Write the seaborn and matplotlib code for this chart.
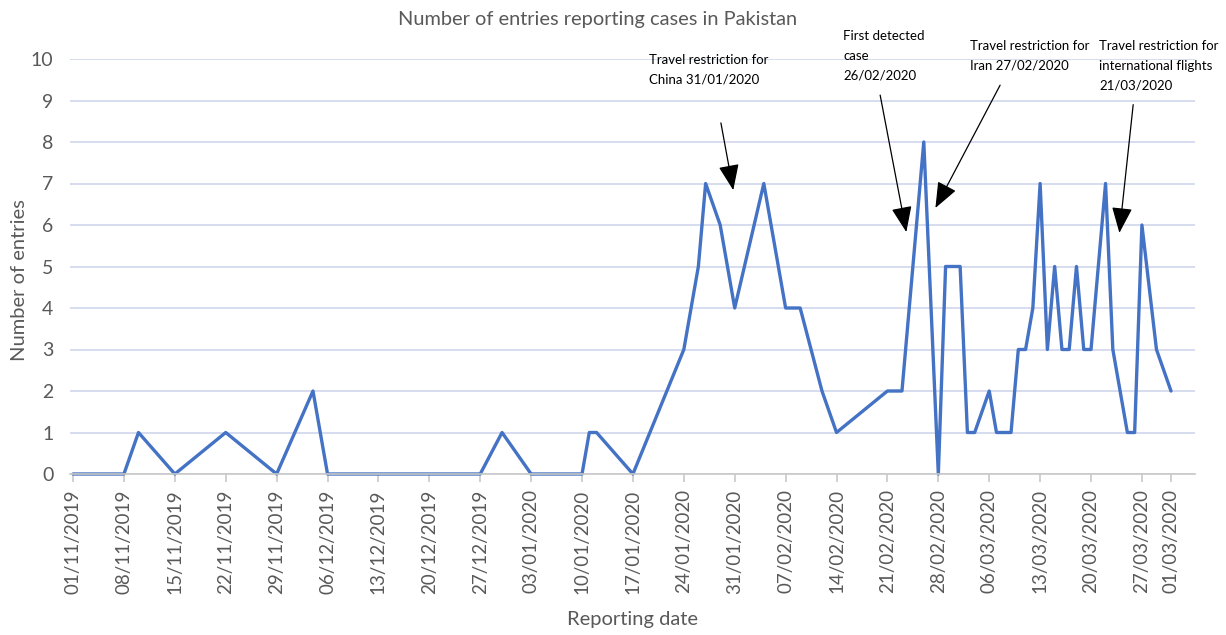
import matplotlib
matplotlib.use("Agg")
import matplotlib.pyplot as plt
import pandas as pd
import seaborn as sns

# data
dates = ["2019-11-01", "2019-11-08", "2019-11-10", "2019-11-15", "2019-11-22",
         "2019-11-29", "2019-12-04", "2019-12-06", "2019-12-27", "2019-12-30",
         "2020-01-03", "2020-01-10", "2020-01-11", "2020-01-12", "2020-01-17",
         "2020-01-24", "2020-01-26", "2020-01-27", "2020-01-29", "2020-01-31",
         "2020-02-04", "2020-02-07", "2020-02-09", "2020-02-12", "2020-02-14",
         "2020-02-21", "2020-02-23", "2020-02-26", "2020-02-28", "2020-02-29",
         "2020-03-02", "2020-03-03", "2020-03-04", "2020-03-06", "2020-03-07",
         "2020-03-09", "2020-03-10", "2020-03-11", "2020-03-12", "2020-03-13",
         "2020-03-14", "2020-03-15", "2020-03-16", "2020-03-17", "2020-03-18",
         "2020-03-19", "2020-03-20", "2020-03-22", "2020-03-23", "2020-03-24",
         "2020-03-25", "2020-03-26", "2020-03-27", "2020-03-29", "2020-03-31"]
entries = [0, 0, 1, 0, 1,
           0, 2, 0, 0, 1,
           0, 0, 1, 1, 0,
           3, 5, 7, 6, 4,
           7, 4, 4, 2, 1,
           2, 2, 8, 0, 5,
           5, 1, 1, 2, 1,
           1, 3, 3, 4, 7,
           3, 5, 3, 3, 5,
           3, 3, 7, 3, 2,
           1, 1, 6, 3, 2]

tick_dates = ["2019-11-01", "2019-11-08", "2019-11-15", "2019-11-22", "2019-11-29",
              "2019-12-06", "2019-12-13", "2019-12-20", "2019-12-27", "2020-01-03",
              "2020-01-10", "2020-01-17", "2020-01-24", "2020-01-31", "2020-02-07",
              "2020-02-14", "2020-02-21", "2020-02-28", "2020-03-06", "2020-03-13",
              "2020-03-20", "2020-03-27", "2020-03-31"]
tick_labels = ["01/11/2019", "08/11/2019", "15/11/2019", "22/11/2019", "29/11/2019",
               "06/12/2019", "13/12/2019", "20/12/2019", "27/12/2019", "03/01/2020",
               "10/01/2020", "17/01/2020", "24/01/2020", "31/01/2020", "07/02/2020",
               "14/02/2020", "21/02/2020", "28/02/2020", "06/03/2020", "13/03/2020",
               "20/03/2020", "27/03/2020", "01/03/2020"]

notes = ["Travel restriction for\nChina 31/01/2020",
         "First detected\ncase\n26/02/2020",
         "Travel restriction for\nIran 27/02/2020",
         "Travel restriction for\ninternational flights\n21/03/2020"]

df = pd.DataFrame({"date": pd.to_datetime(dates), "entries": entries})

sns.set_theme(style="white")
plt.rcParams["font.family"] = ["Lato", "DejaVu Sans"]

W, H = 1226, 635
fig = plt.figure(figsize=(W / 100, H / 100), dpi=100)
ax = fig.add_axes([70 / W, 1 - 474 / H, (1195 - 70) / W, (474 - 59) / H])

sns.lineplot(data=df, x="date", y="entries", ax=ax, color="#4472C4",
             linewidth=2.4, clip_on=False)

start = pd.Timestamp("2019-11-01")
ax.set_xlim(start - pd.Timedelta(hours=10), start + pd.Timedelta(days=154.3))
ax.set_ylim(0, 10)
ax.set_yticks(range(0, 11))
ax.set_xticks(pd.to_datetime(tick_dates))
ax.set_xticklabels(tick_labels, rotation=90)

ax.yaxis.grid(True, color="#D6DCEE", linewidth=1.4)
ax.set_axisbelow(True)
for s in ["top", "left", "right"]:
    ax.spines[s].set_visible(False)
ax.spines["bottom"].set_color("#C8C8C8")
ax.spines["bottom"].set_linewidth(1.2)
ax.tick_params(axis="x", bottom=True, length=6, color="#C8C8C8", width=1.2,
               labelsize=13.5, labelcolor="#595959", pad=5)
ax.tick_params(axis="y", left=False, labelsize=14, labelcolor="#595959", pad=6)
ax.set_xlabel("")
ax.set_ylabel("")

fig.text(598 / W, 1 - 20 / H, "Number of entries reporting cases in Pakistan",
         ha="center", va="center", fontsize=14.4, color="#595959")
fig.text(20 / W, 1 - 280 / H, "Number of entries", rotation=90,
         ha="center", va="center", fontsize=14.5, color="#595959")
fig.text(633 / W, 1 - 619 / H, "Reporting date",
         ha="center", va="center", fontsize=14.5, color="#595959")

# annotation text boxes (pixel positions of top-left corner)
note_pos = [(649, 54), (843, 30), (970, 40), (1099, 40)]
for txt, (px, py) in zip(notes, note_pos):
    fig.text(px / W, 1 - py / H, txt, ha="left", va="top", fontsize=9.5,
             color="black", linespacing=1.8)

# arrows: (head day, head y, tail day, tail y)
arrows = [(90.8, 6.84, 89.1, 8.46), (114.6, 5.83, 111.0, 9.13),
          (118.6, 6.41, 127.5, 9.37), (143.9, 5.81, 145.8, 8.9)]
for hd, hy, td, ty in arrows:
    ax.annotate("", xy=(start + pd.Timedelta(days=hd), hy),
                xytext=(start + pd.Timedelta(days=td), ty),
                arrowprops=dict(arrowstyle="-|>,head_length=0.8,head_width=0.32",
                                mutation_scale=20, color="black", lw=0.9,
                                shrinkA=0, shrinkB=0))

fig.savefig("out.png", dpi=100, facecolor="white")
